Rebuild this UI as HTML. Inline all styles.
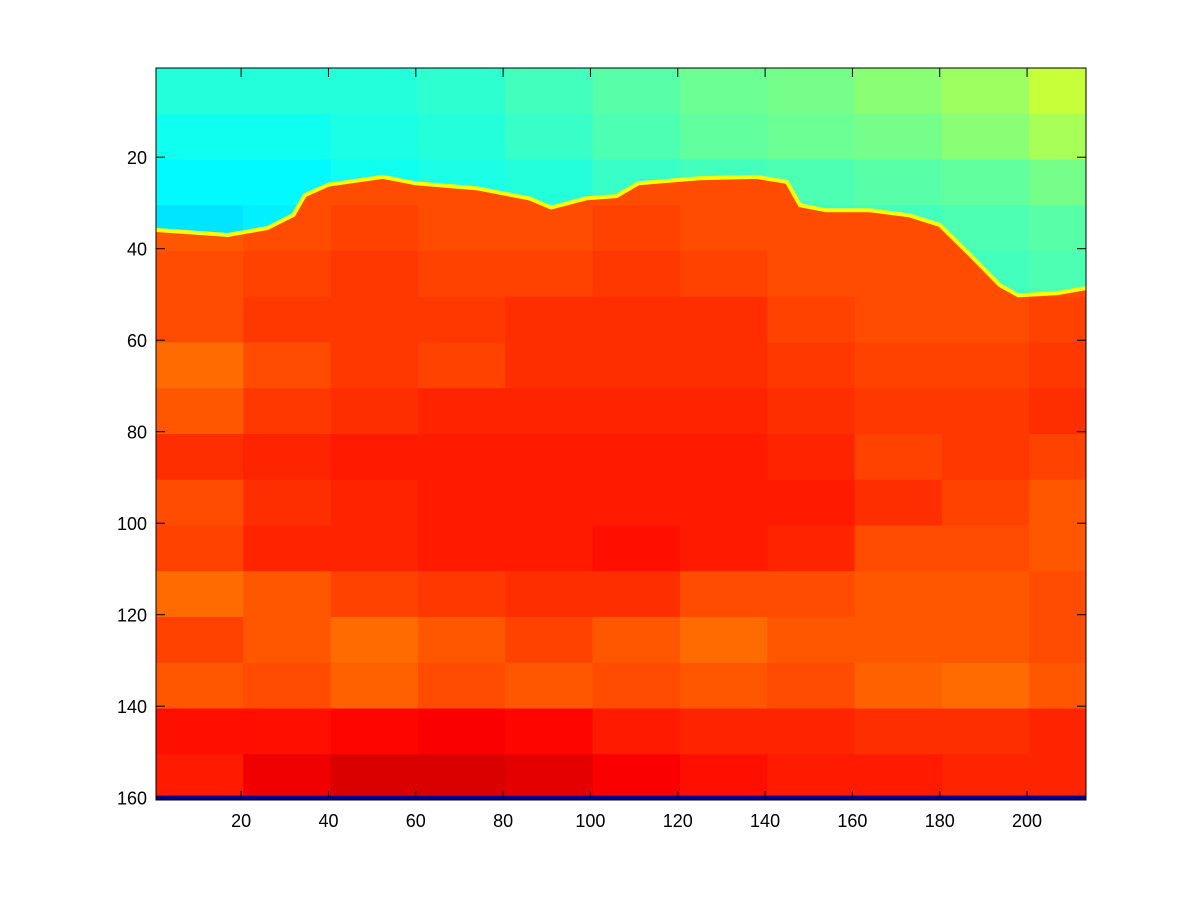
<!DOCTYPE html>
<html><head><meta charset="utf-8"><style>
html,body{margin:0;padding:0;background:#fff;width:1200px;height:900px;overflow:hidden}
svg text{font-family:"Liberation Sans",sans-serif;font-size:18px;fill:#000}
</style></head><body>
<svg id="chart" width="1200" height="900">
<defs><clipPath id="plotclip"><rect x="156" y="68" width="930" height="732"/></clipPath></defs>
<g id="sky" clip-path="url(#plotclip)"></g>
<g id="rock"></g>
<g id="axes"></g>
</svg>
<script>
const skyRows=[0,10,20,30,40,50];
const xBins=[0,20,40,60,80,100,120,140,160,180,200];
const skyValues=[
[0.41,0.41,0.41,0.42,0.44,0.46,0.48,0.49,0.51,0.53,0.57],
[0.39,0.39,0.40,0.41,0.43,0.45,0.47,0.48,0.49,0.51,0.54],
[0.37,0.37,0.39,0.40,0.41,0.43,0.44,0.45,0.46,0.47,0.49],
[0.35,0.36,0.38,0.39,0.40,0.41,0.42,0.43,0.44,0.45,0.46],
[0.37,0.37,0.38,0.39,0.40,0.41,0.42,0.43,0.43,0.44,0.45],
[0.37,0.37,0.38,0.39,0.40,0.41,0.42,0.43,0.43,0.44,0.45]];
const rockRows=[0,10,20,30,40,50,60,70,80,90,100,110,120,130,140,150];
const rockValues=[
[0.80,0.80,0.80,0.80,0.80,0.80,0.80,0.80,0.80,0.80,0.80],
[0.80,0.80,0.80,0.80,0.80,0.80,0.80,0.80,0.80,0.80,0.80],
[0.80,0.80,0.80,0.80,0.80,0.80,0.80,0.80,0.80,0.80,0.80],
[0.79,0.80,0.81,0.80,0.80,0.81,0.80,0.80,0.80,0.80,0.80],
[0.80,0.81,0.82,0.81,0.81,0.82,0.81,0.80,0.80,0.80,0.80],
[0.80,0.82,0.82,0.82,0.83,0.83,0.83,0.81,0.80,0.80,0.81],
[0.77,0.80,0.82,0.81,0.83,0.83,0.83,0.82,0.81,0.81,0.82],
[0.79,0.82,0.83,0.84,0.84,0.84,0.84,0.83,0.82,0.82,0.83],
[0.83,0.84,0.85,0.85,0.85,0.85,0.85,0.84,0.81,0.82,0.81],
[0.80,0.83,0.84,0.85,0.85,0.85,0.85,0.85,0.83,0.81,0.79],
[0.81,0.84,0.84,0.85,0.85,0.86,0.85,0.84,0.80,0.80,0.79],
[0.77,0.79,0.81,0.82,0.83,0.83,0.80,0.80,0.79,0.79,0.80],
[0.81,0.79,0.77,0.79,0.81,0.79,0.77,0.79,0.79,0.79,0.80],
[0.79,0.80,0.78,0.80,0.79,0.80,0.79,0.80,0.78,0.77,0.79],
[0.86,0.86,0.87,0.88,0.87,0.85,0.84,0.84,0.83,0.83,0.84],
[0.85,0.89,0.91,0.91,0.90,0.88,0.86,0.85,0.85,0.84,0.84]];
const boundaryX=[0.5,17,26,32,34.6,40,52.5,60,74,86,91,99,106,111,125,138,145,148,154,164,173,180,187,193.8,198,207,213.5];
const boundaryY=[35.9,37,35.5,32.6,28.3,26,24.3,25.7,26.8,29,31,29,28.5,25.7,24.6,24.3,25.4,30.5,31.6,31.6,32.7,34.8,41.4,48,50.2,49.7,48.6];
const xTicks=[20,40,60,80,100,120,140,160,180,200];
const yTicks=[20,40,60,80,100,120,140,160];

const X0=156,X1=1086,Y0=68,Y1=800;
const xs=v=>X0+(v-0.5)*(X1-X0)/213;
const ys=v=>Y0+(v-0.5)*(Y1-Y0)/160;
function jet(t){
  const c=x=>Math.max(0,Math.min(1,x));
  const r=c(1.5-Math.abs(4*t-3)),g=c(1.5-Math.abs(4*t-2)),b=c(1.5-Math.abs(4*t-1));
  return `rgb(${Math.round(r*255)},${Math.round(g*255)},${Math.round(b*255)})`;
}
const NS='http://www.w3.org/2000/svg';
function mk(tag,attrs,parent){const e=document.createElementNS(NS,tag);for(const k in attrs)e.setAttribute(k,attrs[k]);parent.appendChild(e);return e;}
const sky=document.getElementById('sky'),rock=document.getElementById('rock'),axes=document.getElementById('axes');
const svg=document.getElementById('chart');

skyValues.forEach((row,i)=>row.forEach((v,j)=>{
  const x0=xBins[j]+0.5,x1=(j+1<xBins.length?xBins[j+1]:213)+0.5;
  const y0=skyRows[i]+0.5,y1=skyRows[i]+10.5;
  const r=mk('rect',{x:xs(x0),y:ys(y0),width:xs(x1)-xs(x0)+0.5,height:ys(y1)-ys(y0)+0.5,fill:jet(v)},sky);
  
  
}));
const defs=svg.querySelector('defs');
const cp=mk('clipPath',{id:'rockclip'},defs);
let pts=boundaryX.map((x,i)=>xs(x)+','+ys(boundaryY[i]));
pts.push(xs(213.5)+','+ys(159.5));pts.push(xs(0.5)+','+ys(159.5));
mk('polygon',{points:pts.join(' ')},cp);
rock.setAttribute('clip-path','url(#rockclip)');
rockValues.forEach((row,i)=>row.forEach((v,j)=>{
  const x0=xBins[j]+0.5,x1=(j+1<xBins.length?xBins[j+1]:213)+0.5;
  const y0=rockRows[i]+0.5,y1=Math.min(rockRows[i]+10.5,159.5);
  const r=mk('rect',{x:xs(x0),y:ys(y0),width:xs(x1)-xs(x0)+0.5,height:ys(y1)-ys(y0)+0.5,fill:jet(v)},rock);
  
  
}));
const edge=mk('polyline',{points:boundaryX.map((x,i)=>xs(x)+','+ys(boundaryY[i])).join(' '),fill:'none',stroke:jet(0.62),'stroke-width':4,'clip-path':'url(#plotclip)'},svg);


svg.appendChild(axes);
const br=mk('rect',{x:X0,y:ys(159.5),width:X1-X0,height:ys(160.5)-ys(159.5),fill:'#00008f'},axes);


const fr=mk('rect',{x:X0,y:Y0,width:X1-X0,height:Y1-Y0,fill:'none',stroke:'#000','stroke-width':1},axes);


xTicks.forEach(t=>{
  const x=xs(t);
  mk('line',{x1:x,x2:x,y1:Y1,y2:Y1-9,stroke:'#000'},axes);
  mk('line',{x1:x,x2:x,y1:Y0,y2:Y0+9,stroke:'#000'},axes);
  const tx=mk('text',{x:x,y:Y1+27,'text-anchor':'middle'},axes);tx.textContent=t;
  
  
});
yTicks.forEach(t=>{
  const y=ys(t);
  mk('line',{x1:X0,x2:X0+9,y1:y,y2:y,stroke:'#000'},axes);
  mk('line',{x1:X1,x2:X1-9,y1:y,y2:y,stroke:'#000'},axes);
  const tx=mk('text',{x:X0-9,y:y+7,'text-anchor':'end'},axes);tx.textContent=t;
  
  
});
</script>
</body></html>
